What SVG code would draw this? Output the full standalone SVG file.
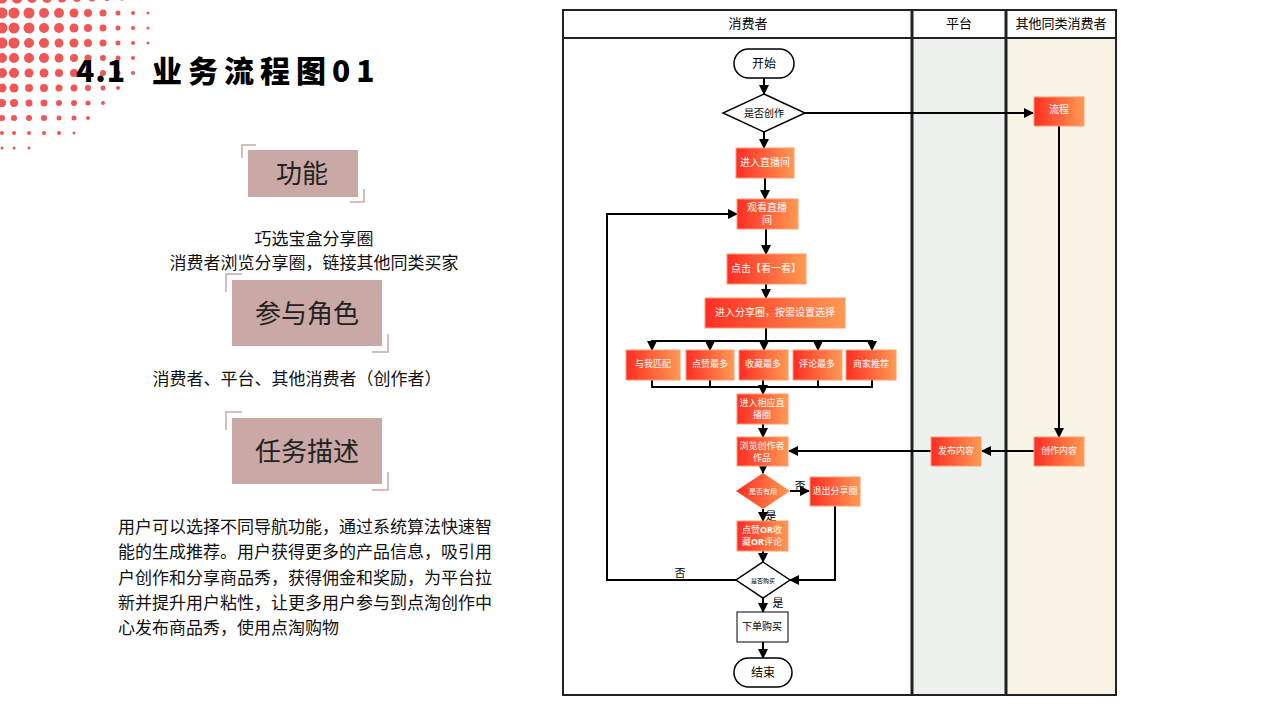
<svg xmlns="http://www.w3.org/2000/svg" width="1280" height="720" viewBox="0 0 1280 720">
<defs>
<linearGradient id="g" x1="0" x2="1" y1="0" y2="0"><stop offset="0" stop-color="#ff2d24"/><stop offset="1" stop-color="#ff9a52"/></linearGradient>
<marker id="a" viewBox="0 0 10 10" refX="9" refY="5" markerWidth="5" markerHeight="5" orient="auto"><path d="M0,0L10,5L0,10z" fill="#000"/></marker>
<style>
.n{fill:url(#g);stroke:#ff9a70;stroke-width:1}
.t{fill:#fff;font-family:"Liberation Serif","Noto Sans CJK SC",serif;font-size:10px;text-anchor:middle}
.s9{font-size:9px}
.s7{font-size:7px}
.k{fill:#000;font-family:"Liberation Serif","Noto Sans CJK SC",serif;text-anchor:middle}
.c{fill:none;stroke:#000;stroke-width:2}
.ca{fill:none;stroke:#000;stroke-width:2;marker-end:url(#a)}
.lb{fill:#c9a8a6}
.br{fill:none;stroke:#c9a8a6;stroke-width:1.5}
.p{font-family:"Liberation Serif","Noto Sans CJK SC",serif;font-size:17px;fill:#111}
.h{font-family:"Noto Sans CJK SC",sans-serif;font-size:26px;fill:#222;text-anchor:middle}
.d{fill:#ef5656}
</style>
</defs>
<rect width="1280" height="720" fill="#fff"/>
<g id="dots">
<g class="d">
<circle cx="2" cy="-2" r="5.5"/><circle cx="17" cy="-2" r="5.5"/><circle cx="32" cy="-2" r="5"/><circle cx="47" cy="-2" r="5"/><circle cx="62" cy="-2" r="4.5"/><circle cx="77" cy="-2" r="4"/><circle cx="92" cy="-2" r="3.5"/><circle cx="107" cy="-2" r="3"/><circle cx="122" cy="-2" r="2.5"/><circle cx="137" cy="-2" r="2"/><circle cx="148" cy="-2" r="1.5"/>
<circle cx="2" cy="13" r="5.5"/><circle cx="14" cy="13" r="5.5"/><circle cx="29" cy="13" r="5.5"/><circle cx="44" cy="13" r="5"/><circle cx="59" cy="13" r="5"/><circle cx="74" cy="13" r="4.5"/><circle cx="88" cy="13" r="4"/><circle cx="103" cy="13" r="3.5"/><circle cx="118" cy="13" r="2.5"/><circle cx="133" cy="13" r="2"/><circle cx="148" cy="13" r="1.5"/>
<circle cx="2" cy="28" r="5.5"/><circle cx="14" cy="28" r="5.5"/><circle cx="29" cy="28" r="5.5"/><circle cx="44" cy="28" r="5"/><circle cx="59" cy="28" r="5"/><circle cx="74" cy="28" r="4.5"/><circle cx="88" cy="28" r="4"/><circle cx="103" cy="28" r="3.5"/><circle cx="118" cy="28" r="2.5"/><circle cx="133" cy="28" r="2"/><circle cx="148" cy="28" r="1.5"/>
<circle cx="2" cy="43" r="5.5"/><circle cx="14" cy="43" r="5.5"/><circle cx="29" cy="43" r="5"/><circle cx="44" cy="43" r="5"/><circle cx="59" cy="43" r="4.5"/><circle cx="74" cy="43" r="4.5"/><circle cx="88" cy="43" r="4"/><circle cx="103" cy="43" r="3.5"/><circle cx="118" cy="43" r="2.5"/><circle cx="133" cy="43" r="2"/><circle cx="148" cy="43" r="1.5"/>
<circle cx="2" cy="58" r="5"/><circle cx="14" cy="58" r="5"/><circle cx="29" cy="58" r="5"/><circle cx="44" cy="58" r="5"/><circle cx="59" cy="58" r="4.5"/><circle cx="74" cy="58" r="4"/><circle cx="88" cy="58" r="3.5"/><circle cx="103" cy="58" r="3"/><circle cx="118" cy="58" r="2.5"/><circle cx="133" cy="58" r="2"/>
<circle cx="2" cy="73" r="5"/><circle cx="14" cy="73" r="5"/><circle cx="29" cy="73" r="4.5"/><circle cx="44" cy="73" r="4.5"/><circle cx="59" cy="73" r="4"/><circle cx="74" cy="73" r="4"/><circle cx="88" cy="73" r="3.5"/><circle cx="103" cy="73" r="3"/><circle cx="118" cy="73" r="2.5"/><circle cx="133" cy="73" r="2"/>
<circle cx="2" cy="88" r="4.5"/><circle cx="14" cy="88" r="4.5"/><circle cx="29" cy="88" r="4"/><circle cx="44" cy="88" r="4"/><circle cx="59" cy="88" r="3.5"/><circle cx="74" cy="88" r="3.5"/><circle cx="88" cy="88" r="3"/><circle cx="103" cy="88" r="2.5"/><circle cx="118" cy="88" r="2"/>
<circle cx="2" cy="103" r="4"/><circle cx="14" cy="103" r="4"/><circle cx="29" cy="103" r="3.5"/><circle cx="44" cy="103" r="3.5"/><circle cx="59" cy="103" r="3"/><circle cx="74" cy="103" r="3"/><circle cx="88" cy="103" r="2.5"/><circle cx="103" cy="103" r="2"/>
<circle cx="2" cy="118" r="3"/><circle cx="14" cy="118" r="3"/><circle cx="29" cy="118" r="3"/><circle cx="44" cy="118" r="3"/><circle cx="59" cy="118" r="2.5"/><circle cx="74" cy="118" r="2.5"/><circle cx="88" cy="118" r="2"/>
<circle cx="2" cy="133" r="2"/><circle cx="14" cy="133" r="2"/><circle cx="29" cy="133" r="2"/><circle cx="44" cy="133" r="2"/><circle cx="59" cy="133" r="2"/><circle cx="74" cy="133" r="1.5"/>
<circle cx="2" cy="148" r="1.5"/><circle cx="14" cy="148" r="1.5"/><circle cx="29" cy="148" r="1.5"/>
</g>
</g>
<g font-family="'Noto Sans CJK SC',sans-serif" font-weight="900" font-size="30" fill="#000">
<text x="76" y="82" letter-spacing="1">4.1</text>
<text x="152" y="82" letter-spacing="6">业务流程图01</text>
</g>

<g id="left">
<path class="br" d="M242,158V145H256M364,189V202H350"/>
<rect class="lb" x="248" y="150" width="110" height="47"/>
<text class="h" x="302" y="183">功能</text>
<text class="p" x="314" y="245" text-anchor="middle">巧选宝盒分享圈</text>
<text class="p" x="314" y="269" text-anchor="middle">消费者浏览分享圈，链接其他同类买家</text>
<path class="br" d="M226,292V274H242M388,334V352H372"/>
<rect class="lb" x="232" y="280" width="150" height="66"/>
<text class="h" x="307" y="323">参与角色</text>
<text class="p" x="297" y="385" text-anchor="middle">消费者、平台、其他消费者（创作者）</text>
<path class="br" d="M226,430V412H242M388,472V490H372"/>
<rect class="lb" x="232" y="418" width="150" height="66"/>
<text class="h" x="307" y="461">任务描述</text>
<text class="p" x="118" y="533">用户可以选择不同导航功能，通过系统算法快速智</text>
<text class="p" x="118" y="558">能的生成推荐。用户获得更多的产品信息，吸引用</text>
<text class="p" x="118" y="584">户创作和分享商品秀，获得佣金和奖励，为平台拉</text>
<text class="p" x="118" y="609">新并提升用户粘性，让更多用户参与到点淘创作中</text>
<text class="p" x="118" y="634">心发布商品秀，使用点淘购物</text>
</g>

<g id="lanes">
<rect x="913" y="38" width="93" height="657" fill="#eef2ef"/>
<rect x="1006" y="38" width="110" height="657" fill="#f8f4e6"/>
<rect x="563" y="10" width="553" height="685" fill="none" stroke="#222" stroke-width="2"/>
<line x1="563" y1="38" x2="1116" y2="38" stroke="#222" stroke-width="2"/>
<line x1="912" y1="10" x2="912" y2="695" stroke="#222" stroke-width="3"/>
<line x1="1006" y1="10" x2="1006" y2="695" stroke="#222" stroke-width="3"/>
<text class="k" x="748" y="28" font-size="13">消费者</text>
<text class="k" x="959" y="28" font-size="13">平台</text>
<text class="k" x="1061" y="28" font-size="13">其他同类消费者</text>
</g>

<g id="connectors">
<path class="ca" d="M764,78V94"/>
<path class="ca" d="M805,113H1033"/>
<path class="ca" d="M764,132V148"/>
<path class="ca" d="M765,178V199"/>
<path class="ca" d="M766,229V254"/>
<path class="ca" d="M766,284V298"/>
<path class="c" d="M766,328V341M652,350V341H872V350"/>
<path class="ca" d="M652,341V350"/><path class="ca" d="M710,341V350"/><path class="ca" d="M764,341V350"/><path class="ca" d="M818,341V350"/><path class="ca" d="M872,341V350"/>
<path class="c" d="M652,380V387H872V380M710,380V387M818,380V387"/>
<path class="ca" d="M763,380V394"/>
<path class="ca" d="M763,424V437"/>
<path class="ca" d="M763,466V473"/>
<path class="ca" d="M790,491H809"/>
<path class="ca" d="M763,509V521"/>
<path class="ca" d="M763,551V562"/>
<path class="ca" d="M763,598V612"/>
<path class="ca" d="M763,642V658"/>
<path class="ca" d="M1059,126V437"/>
<path class="ca" d="M1034,451H982"/>
<path class="ca" d="M931,451H789"/>
<path class="ca" d="M736,580H607V214H737"/>
<path class="ca" d="M835,506V580H790"/>
<text class="k" x="800" y="490" font-size="11">否</text>
<text class="k" x="771" y="520" font-size="11">是</text>
<text class="k" x="680" y="577" font-size="11">否</text>
<text class="k" x="778" y="607" font-size="11">是</text>
</g>

<g id="n-start"><rect x="734" y="49" width="60" height="29" rx="14.5" fill="#fff" stroke="#000" stroke-width="1.5"/><text class="k" x="764" y="68" font-size="12">开始</text></g>
<g id="n-create"><path d="M764,94L805,113L764,132L723,113Z" fill="#fff" stroke="#000" stroke-width="1.5"/><text class="k" x="764" y="117" font-size="10">是否创作</text></g>
<g id="n-enter"><rect class="n" x="736" y="148" width="58" height="30"/><text class="t" x="765" y="166">进入直播间</text></g>
<g id="n-watch"><rect class="n" x="737" y="199" width="61" height="30"/><text class="t" x="767" y="211">观看直播</text><text class="t" x="767" y="224">间</text></g>
<g id="n-click"><rect class="n" x="727" y="254" width="79" height="30"/><text class="t" x="766" y="272">点击【看一看】</text></g>
<g id="n-share"><rect class="n" x="705" y="298" width="140" height="30"/><text class="t" x="775" y="316">进入分享圈，按需设置选择</text></g>
<g id="n-o1"><rect class="n" x="626" y="350" width="54" height="30"/><text class="t s9" x="653" y="367">与我匹配</text></g>
<g id="n-o2"><rect class="n" x="686" y="350" width="48" height="30"/><text class="t s9" x="710" y="367">点赞最多</text></g>
<g id="n-o3"><rect class="n" x="739" y="350" width="49" height="30"/><text class="t s9" x="763" y="367">收藏最多</text></g>
<g id="n-o4"><rect class="n" x="793" y="350" width="49" height="30"/><text class="t s9" x="817" y="367">评论最多</text></g>
<g id="n-o5"><rect class="n" x="846" y="350" width="50" height="30"/><text class="t s9" x="871" y="367">商家推荐</text></g>
<g id="n-room"><rect class="n" x="737" y="394" width="51" height="30"/><text class="t s9" x="762" y="406">进入相应直</text><text class="t s9" x="762" y="418">播圈</text></g>
<g id="n-browse"><rect class="n" x="737" y="437" width="51" height="29"/><text class="t s9" x="762" y="449">浏览创作者</text><text class="t s9" x="762" y="461">作品</text></g>
<g id="n-useful"><path d="M763,473L790,491L763,509L736,491Z" fill="url(#g)"/><text class="t s7" x="763" y="494">是否有用</text></g>
<g id="n-exit"><rect class="n" x="810" y="477" width="50" height="29"/><text class="t s9" x="835" y="494">退出分享圈</text></g>
<g id="n-like"><rect class="n" x="737" y="521" width="51" height="30"/><text class="t s9" x="762" y="533">点赞<tspan font-family="'Noto Sans',sans-serif" font-weight="bold">OR</tspan>收</text><text class="t s9" x="762" y="545">藏<tspan font-family="'Noto Sans',sans-serif" font-weight="bold">OR</tspan>评论</text></g>
<g id="n-buy"><path d="M763,562L790,580L763,598L736,580Z" fill="#fff" stroke="#000" stroke-width="1.5"/><text class="k" x="763" y="583" font-size="6">是否购买</text></g>
<g id="n-order"><rect x="737" y="612" width="51" height="30" fill="#fff" stroke="#000" stroke-width="1"/><text class="k" x="762" y="630" font-size="10">下单购买</text></g>
<g id="n-end"><rect x="734" y="658" width="58" height="29" rx="14.5" fill="#fff" stroke="#000" stroke-width="1.5"/><text class="k" x="763" y="677" font-size="12">结束</text></g>
<g id="n-flow"><rect class="n" x="1034" y="97" width="50" height="29"/><text class="t" x="1059" y="113">流程</text></g>
<g id="n-content"><rect class="n" x="1034" y="437" width="50" height="29"/><text class="t s9" x="1059" y="454">创作内容</text></g>
<g id="n-publish"><rect class="n" x="931" y="437" width="50" height="29"/><text class="t s9" x="956" y="454">发布内容</text></g>
</svg>
